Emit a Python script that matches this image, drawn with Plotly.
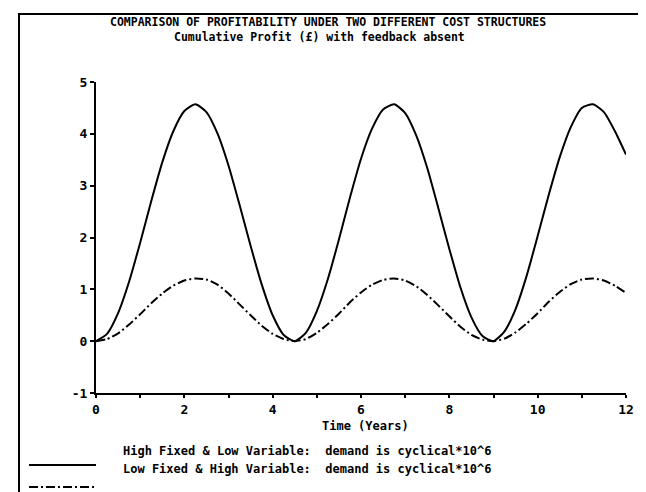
import plotly.graph_objects as go

# ---- data ----
years = [0.0, 0.25, 0.5, 0.75, 1.0, 1.25, 1.5, 1.75, 2.0, 2.25, 2.5, 2.75, 3.0,
         3.25, 3.5, 3.75, 4.0, 4.25, 4.5, 4.75, 5.0, 5.25, 5.5, 5.75, 6.0,
         6.25, 6.5, 6.75, 7.0, 7.25, 7.5, 7.75, 8.0, 8.25, 8.5, 8.75, 9.0,
         9.25, 9.5, 9.75, 10.0, 10.25, 10.5, 10.75, 11.0, 11.25, 11.5, 11.75, 12.0]

high_fixed_low_var = [0.00, 0.14, 0.54, 1.15, 1.90, 2.70, 3.45, 4.05, 4.44,
                      4.57, 4.42, 4.01, 3.39, 2.63, 1.84, 1.10, 0.50,
                      0.12, 0.00, 0.16, 0.58, 1.20, 1.96, 2.77, 3.52,
                      4.10, 4.47, 4.57, 4.40, 3.97, 3.34, 2.57, 1.78,
                      1.04, 0.46, 0.10, 0.00, 0.19, 0.62, 1.26, 2.03,
                      2.82, 3.55, 4.13, 4.50, 4.57, 4.42, 4.05, 3.60]

low_fixed_high_var = [0.00, 0.04, 0.15, 0.32, 0.52, 0.73, 0.92, 1.07, 1.17,
                      1.21, 1.19, 1.09, 0.92, 0.71, 0.50, 0.30, 0.14,
                      0.04, 0.00, 0.04, 0.16, 0.33, 0.53, 0.75, 0.94,
                      1.09, 1.18, 1.21, 1.17, 1.06, 0.89, 0.69, 0.48,
                      0.28, 0.12, 0.03, 0.00, 0.05, 0.17, 0.34, 0.54,
                      0.76, 0.95, 1.10, 1.19, 1.21, 1.17, 1.07, 0.93]

x_major = [0, 2, 4, 6, 8, 10, 12]
x_major_text = ["0", "2", "4", "6", "8", "10", "12"]
x_minor = [1, 3, 5, 7, 9, 11]
y_ticks = [-1, 0, 1, 2, 3, 4, 5]
y_tick_text = ["-1", "0", "1", "2", "3", "4", "5"]

title_1 = "COMPARISON OF PROFITABILITY UNDER TWO DIFFERENT COST STRUCTURES"
title_2 = "Cumulative Profit (£) with feedback absent"
x_title = "Time (Years)"
legend_1 = "High Fixed & Low Variable:  demand is cyclical*10^6"
legend_2 = "Low Fixed & High Variable:  demand is cyclical*10^6"

FONT = "DejaVu Sans Mono"

fig = go.Figure()
fig.add_trace(go.Scatter(x=years, y=high_fixed_low_var, mode="lines",
                         name=legend_1,
                         line=dict(color="black", width=2, shape="spline", smoothing=0.6)))
fig.add_trace(go.Scatter(x=years, y=low_fixed_high_var, mode="lines",
                         name=legend_2,
                         line=dict(color="black", width=2, dash="9px,3px,2px,3px",
                                   shape="spline", smoothing=0.6)))

W, H = 646, 492
L, R, T, B = 88, 28, 74, 107
pw, ph = W - L - R, H - T - B


def px(x):
    return (x - L) / pw


def py(y):
    return (H - B - y) / ph


fig.update_layout(
    width=W, height=H,
    margin=dict(l=L, r=R, t=T, b=B),
    paper_bgcolor="white", plot_bgcolor="white",
    showlegend=False,
    font=dict(family=FONT, color="black", weight="bold"),
    xaxis=dict(range=[0, 12], showgrid=False, zeroline=False, showline=True,
               linecolor="black", linewidth=2, ticks="outside", ticklen=3,
               tickwidth=2, tickcolor="black", tickvals=x_major, ticktext=x_major_text,
               tickfont=dict(family=FONT, size=13, weight="bold"),
               minor=dict(tickvals=x_minor, ticks="outside", ticklen=3,
                          tickwidth=2, tickcolor="black")),
    yaxis=dict(range=[-1, 5], showgrid=False, zeroline=False, showline=True,
               linecolor="black", linewidth=2, ticks="outside", ticklen=4,
               tickwidth=2, tickcolor="black", tickvals=y_ticks, ticktext=y_tick_text,
               tickfont=dict(family=FONT, size=13, weight="bold")),
)

ann = dict(xref="paper", yref="paper", showarrow=False)
f_title = dict(family=FONT, size=11.5, color="black", weight="bold")
f_text = dict(family=FONT, size=12, color="black", weight="bold")
fig.add_annotation(text=title_1, x=px(320), y=py(14), xanchor="center", yanchor="middle",
                   font=f_title, **ann)
fig.add_annotation(text=title_2, x=px(311), y=py(29), xanchor="center", yanchor="middle",
                   font=f_title, **ann)
fig.add_annotation(text=x_title, x=px(357), y=py(418), xanchor="center", yanchor="middle",
                   font=f_text, **ann)
fig.add_annotation(text=legend_1, x=px(113), y=py(443), xanchor="left", yanchor="middle",
                   font=f_text, **ann)
fig.add_annotation(text=legend_2, x=px(113), y=py(461), xanchor="left", yanchor="middle",
                   font=f_text, **ann)

# legend samples
fig.add_shape(type="line", xref="paper", yref="paper", x0=px(21), x1=px(88),
              y0=py(457), y1=py(457), line=dict(color="black", width=2))
fig.add_shape(type="line", xref="paper", yref="paper", x0=px(21), x1=px(88),
              y0=py(479), y1=py(479), line=dict(color="black", width=2, dash="9px,3px,2px,3px"))

# frame around the page
fig.add_shape(type="rect", xref="paper", yref="paper", x0=px(11), x1=px(639),
              y0=py(505), y1=py(6), line=dict(color="black", width=2), layer="below")

fig.write_html("out.html")
